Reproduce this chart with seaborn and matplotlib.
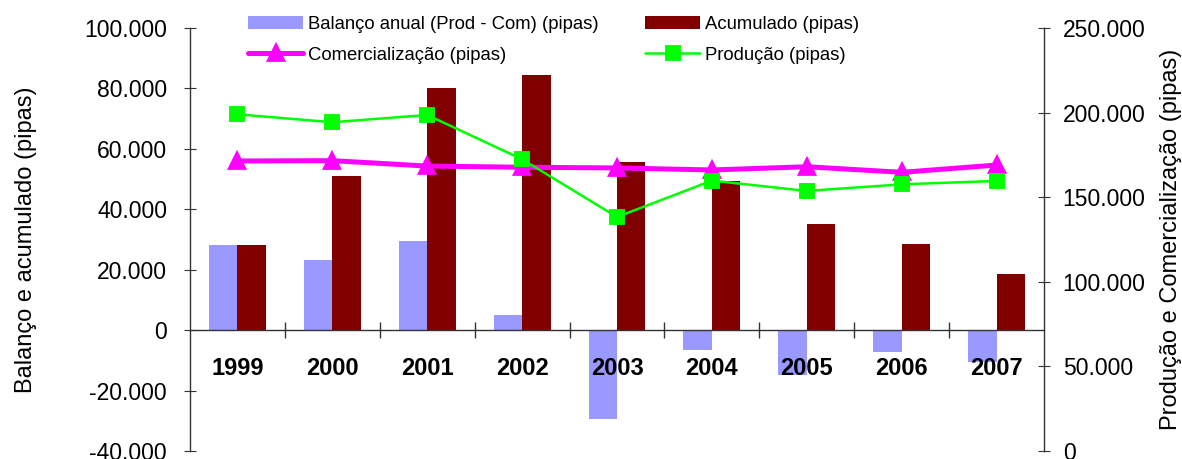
import numpy as np
import pandas as pd
import matplotlib.pyplot as plt
import seaborn as sns
from matplotlib.ticker import FuncFormatter, FixedLocator, MultipleLocator

anos = ['1999', '2000', '2001', '2002', '2003', '2004', '2005', '2006', '2007']
balanco = [28100, 23200, 29500, 5000, -29500, -6600, -15000, -7100, -10500]
acumulado = [28100, 50900, 80000, 84600, 55600, 49500, 35000, 28500, 18500]
producao = [199000, 194300, 198600, 172400, 138300, 159800, 153700, 157600, 159600]
comercializacao = [171400, 171600, 168400, 167700, 167300, 166100, 168000, 164700, 169000]

lab_bal = 'Balanço anual (Prod - Com) (pipas)'
lab_acu = 'Acumulado (pipas)'
lab_com = 'Comercialização (pipas)'
lab_prod = 'Produção (pipas)'

sns.set_style('ticks')
plt.rcParams['font.family'] = ['Liberation Sans', 'DejaVu Sans']
plt.rcParams['text.color'] = 'black'
plt.rcParams['axes.labelcolor'] = 'black'

bars = pd.DataFrame({'ano': anos * 2,
                     'valor': balanco + acumulado,
                     'serie': [lab_bal] * 9 + [lab_acu] * 9})
linhas = pd.DataFrame({'ano': anos, 'prod': producao, 'com': comercializacao})

fig = plt.figure(figsize=(11.82, 4.59), dpi=100)
ax = fig.add_axes([190 / 1182, 8 / 459, (1044 - 190) / 1182, 423 / 459])

sns.barplot(data=bars, x='ano', y='valor', hue='serie', width=0.6, gap=0,
            palette=['#9999ff', '#800000'], linewidth=0, saturation=1, ax=ax)
bar_handles, bar_labels = ax.get_legend_handles_labels()
ax.get_legend().remove()
for p in ax.patches:
    p.set_zorder(1)
# year labels and zero line go over the bars
ax.set_axisbelow(False)
ax.xaxis.set_zorder(5)

ax2 = ax.twinx()
sns.pointplot(data=linhas, x='ano', y='com', color='#ff00ff', markers='^',
              markersize=10, linewidth=3.6, errorbar=None, ax=ax2)
sns.pointplot(data=linhas, x='ano', y='prod', color='#00ff00', markers='s',
              markersize=10, linewidth=1.8, errorbar=None, ax=ax2)
com_line, prod_line = ax2.lines[0], ax2.lines[1]

fmt = FuncFormatter(lambda v, p: f'{v:,.0f}'.replace(',', '.'))

ax.set_xlim(-0.5, 8.5)
ax2.set_xlim(-0.5, 8.5)
ax.set_ylim(-40000, 100000)
ax.yaxis.set_major_locator(MultipleLocator(20000))
ax.yaxis.set_major_formatter(fmt)
ax2.set_ylim(0, 250000)
ax2.yaxis.set_major_locator(MultipleLocator(50000))
ax2.yaxis.set_major_formatter(fmt)

# category axis sits on the zero line
ax.spines['bottom'].set_position(('data', 0))
ax.spines['bottom'].set_zorder(5)
ax.spines['top'].set_visible(False)
ax.spines['right'].set_visible(False)
for s in ['top', 'bottom', 'left']:
    ax2.spines[s].set_visible(False)
for a in (ax, ax2):
    for s in a.spines.values():
        s.set_color('#333333')
        s.set_linewidth(1)

ax.xaxis.set_minor_locator(FixedLocator(np.arange(0.5, 8, 1)))
ax.tick_params(axis='x', which='major', length=0, pad=19, labelcolor='black')
ax.tick_params(axis='x', which='minor', direction='inout', length=12, width=1, color='#333333')
for t in ax.get_xticklabels():
    t.set_fontsize(17)
    t.set_fontweight('bold')
ax.tick_params(axis='y', direction='inout', length=9, labelsize=16.5, pad=12,
               color='#333333', labelcolor='black')
ax2.tick_params(axis='y', direction='inout', length=9, labelsize=16.5, pad=9,
                color='#333333', labelcolor='black')
ax2.tick_params(axis='x', bottom=False, labelbottom=False)

ax.set_xlabel('')
ax.set_ylabel('Balanço e acumulado (pipas)', fontsize=17, labelpad=34)
ax2.set_ylabel('Produção e Comercialização (pipas)', fontsize=17, labelpad=10)
ax2.set_xlabel('')

fig.legend(handles=[bar_handles[0], com_line, bar_handles[1], prod_line],
           labels=[lab_bal, lab_com, lab_acu, lab_prod],
           ncol=2, loc='upper left', bbox_to_anchor=(248 / 1182, 0.965),
           frameon=False, fontsize=13.3, handlelength=3.0, handletextpad=0.25,
           columnspacing=2.5, labelspacing=0.75, borderpad=0, borderaxespad=0)

fig.savefig('out.png', dpi=100)
